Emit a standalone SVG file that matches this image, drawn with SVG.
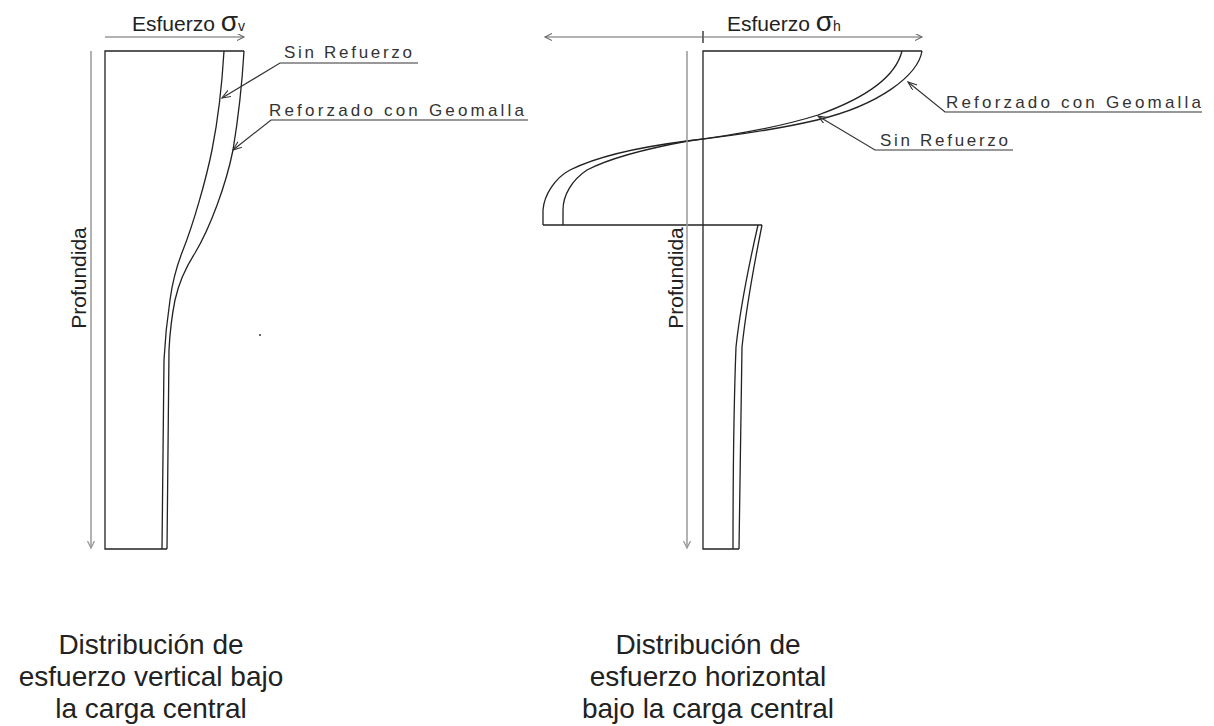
<svg xmlns="http://www.w3.org/2000/svg" width="1214" height="726" viewBox="0 0 1214 726">
<style>
  .bg{fill:#fff}
  .ln{fill:none;stroke:#222;stroke-width:1.3}
  .ax{fill:none;stroke:#666;stroke-width:1.2}
  .dp{fill:none;stroke:#999;stroke-width:1.5}
  .ld{fill:none;stroke:#333;stroke-width:1.2}
  .t{font-family:"Liberation Sans",Arial,sans-serif;fill:#222}
  .title{font-size:21px}
  .cad{font-size:17px;fill:#333}
  .cap{font-size:28px;text-anchor:middle}
  .prof{font-size:21px;text-anchor:middle}
</style>
<defs>
  <marker id="ah" markerWidth="9" markerHeight="9" refX="7" refY="3.5" orient="auto" markerUnits="userSpaceOnUse">
    <path d="M0,0 L7,3.5 L0,7" fill="none" stroke="#666" stroke-width="1.1"/>
  </marker>
  <marker id="ahd" markerWidth="9" markerHeight="9" refX="7" refY="3.5" orient="auto" markerUnits="userSpaceOnUse">
    <path d="M0,0 L7,3.5 L0,7" fill="none" stroke="#999" stroke-width="1.3"/>
  </marker>
  <marker id="al" markerWidth="11" markerHeight="9" refX="9" refY="3.5" orient="auto" markerUnits="userSpaceOnUse">
    <path d="M0,0 L9,3.5 L0,7" fill="none" stroke="#333" stroke-width="1.1"/>
  </marker>
</defs>
<rect class="bg" x="0" y="0" width="1214" height="726"/>

<g id="left-chart">
  <path class="ln" d="M244,51 L105,51 L105,549 L167,549"/>
  <path id="left-sin" class="ln" d="M224,51 C222,85 218,120 212,150 C206,180 193,225 183,250 C177,265 172,285 170,300 C167,320 165,340 164,360 L162,549"/>
  <path id="left-ref" class="ln" d="M244,51 C242,85 238,120 233,150 C226,185 210,228 195,253 C186,267 179,282 175,300 C172,315 170,330 169,350 L167,549"/>
  <circle cx="260" cy="335" r="1" fill="#333"/>
</g>

<g id="right-chart">
  <path class="ln" d="M922,51 L703,51 L703,549 L739,549"/>
  <path class="ln" d="M543,225 L762,225"/>
  <path id="right-ref" class="ln" d="M922,51 C918,75 880,105 817,120 C775,130 730,136 687,141 C640,147 600,155 570,170 C555,178 544,195 543,210 L543,225"/>
  <path id="right-sin" class="ln" d="M902,51 C895,80 860,100 818,115 C780,127 735,135 688,141 C650,148 610,158 587,170 C572,180 563,195 563,210 L563,225"/>
  <path class="ln" d="M762,225 C755,260 746,310 742,347 L739,549"/>
  <path class="ln" d="M758,225 C750,260 740,310 736,347 C734,400 733,470 733,549"/>
  <path class="ln" d="M703,31 L703,43"/>
</g>

<g id="connectors">
  <path class="ax" d="M105,37 L244,37" marker-end="url(#ah)"/>
  <path class="ax" d="M703,37 L545,37" marker-end="url(#ah)"/>
  <path class="ax" d="M703,37 L922,37" marker-end="url(#ah)"/>
  <path class="dp" d="M91,51 L91,548" marker-end="url(#ahd)"/>
  <path class="dp" d="M687,51 L687,548" marker-end="url(#ahd)"/>
  <path class="ld" d="M418,63 L280,63 L222,98" marker-end="url(#al)"/>
  <path class="ld" d="M528,120 L271,120 L233,150" marker-end="url(#al)"/>
  <path class="ld" d="M1202,112 L945,112 L908,82" marker-end="url(#al)"/>
  <path class="ld" d="M1013,150 L875,150 L818,116" marker-end="url(#al)"/>
</g>

<g id="title-left"><text class="t title" x="132" y="31">Esfuerzo <tspan font-size="28">σ</tspan><tspan font-size="14">v</tspan></text></g>
<g id="title-right"><text class="t title" x="727" y="31">Esfuerzo <tspan font-size="28">σ</tspan><tspan font-size="14">h</tspan></text></g>

<g id="label-left-sin"><text class="t cad" x="284" y="58" textLength="128" lengthAdjust="spacing">Sin  Refuerzo</text></g>
<g id="label-left-ref"><text class="t cad" x="269" y="116" textLength="255" lengthAdjust="spacing">Reforzado  con  Geomalla</text></g>
<g id="label-right-ref"><text class="t cad" x="946" y="108" textLength="255" lengthAdjust="spacing">Reforzado  con  Geomalla</text></g>
<g id="label-right-sin"><text class="t cad" x="880" y="146" textLength="128" lengthAdjust="spacing">Sin  Refuerzo</text></g>

<g id="depth-left"><text class="t prof" transform="translate(86,278) rotate(-90)">Profundida</text></g>
<g id="depth-right"><text class="t prof" transform="translate(683,278) rotate(-90)">Profundida</text></g>

<g id="caption-left">
  <text class="t cap" x="151" y="654">Distribución de</text>
  <text class="t cap" x="151" y="686">esfuerzo vertical bajo</text>
  <text class="t cap" x="151" y="718">la carga central</text>
</g>
<g id="caption-right">
  <text class="t cap" x="708" y="654">Distribución de</text>
  <text class="t cap" x="708" y="686">esfuerzo horizontal</text>
  <text class="t cap" x="708" y="718">bajo la carga central</text>
</g>
</svg>
